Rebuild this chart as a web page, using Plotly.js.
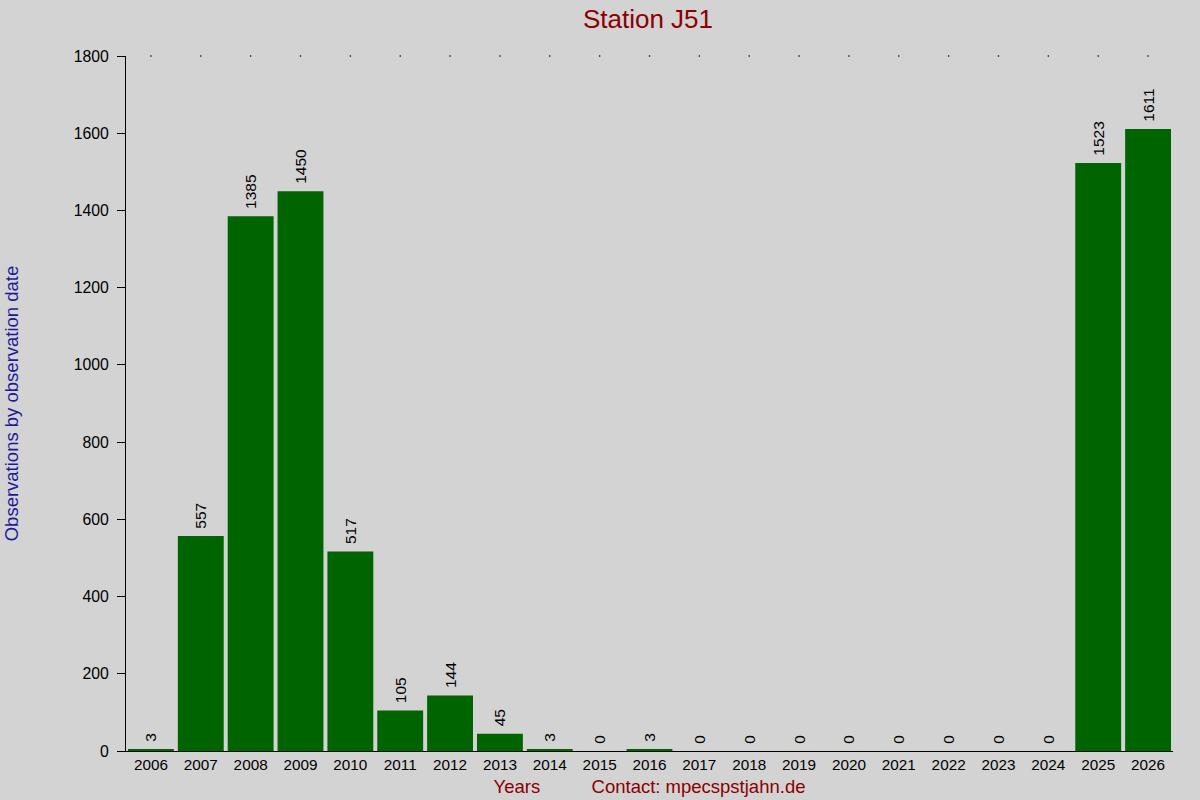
<!DOCTYPE html>
<html>
<head>
<meta charset="utf-8">
<script src="https://cdn.plot.ly/plotly-3.0.1.min.js"></script>
<style>
  body { margin: 0; background: #d3d3d3; }
  #chart { width: 1200px; height: 800px; }
</style>
</head>
<body>
<div id="chart"></div>
<script>
// yearly observation counts for J51
let years = ['2006', '2007', '2008', '2009', '2010', '2011', '2012', '2013', '2014', '2015', '2016',
             '2017', '2018', '2019', '2020', '2021', '2022', '2023', '2024', '2025', '2026'];
let counts = [3, 557, 1385, 1450, 517, 105, 144, 45, 3, 0, 3, 0, 0, 0, 0, 0, 0, 0, 0, 1523, 1611];
let yTicks = [0, 200, 400, 600, 800, 1000, 1200, 1400, 1600, 1800];
let yMax = 1800;

let bars = {
    type: 'bar',
    x: years,
    y: counts,
    width: 0.92,
    marker: { color: '#006400' },
    // leading no-break space keeps the rotated label off the bar top
    text: counts.map(v => '\u00a0' + v),
    textposition: 'outside',
    textangle: -90,
    constraintext: 'none',
    cliponaxis: false,
    textfont: { family: 'Liberation Sans, Arial', size: 15.5, color: '#000' },
    hoverinfo: 'x+y'
};

// little dots along the top edge
let dots = {
    type: 'scatter',
    mode: 'markers',
    x: years,
    y: years.map(() => yMax),
    marker: { color: '#000', size: 1.6 },
    cliponaxis: false,
    hoverinfo: 'skip'
};

let layout = {
    width: 1200,
    height: 800,
    paper_bgcolor: '#d3d3d3',
    plot_bgcolor: '#d3d3d3',
    showlegend: false,
    margin: { l: 126, r: 27, t: 56, b: 49 },
    font: { family: 'Liberation Sans, Arial', size: 15, color: '#000' },
    title: {
        text: 'Station J51',
        font: { size: 26, color: '#8b0000' },
        x: 0.54, xanchor: 'center', y: 0.977, yanchor: 'middle'
    },
    xaxis: {
        type: 'category',
        range: [-0.5, 20.5],
        showline: true,
        linecolor: '#000',
        linewidth: 1,
        ticks: '',
        showgrid: false,
        zeroline: false,
        tickfont: { size: 15.3 },
        title: {
            text: 'Years          Contact: mpecspstjahn.de',
            font: { size: 18.5, color: '#8b0000' },
            standoff: 7
        }
    },
    yaxis: {
        range: [0, yMax],
        tickvals: yTicks,
        showline: true,
        linecolor: '#000',
        linewidth: 1,
        ticks: 'outside',
        ticklen: 8,
        tickcolor: '#000',
        ticklabelstandoff: 5,
        showgrid: false,
        zeroline: false,
        tickfont: { size: 15.8 },
        title: {
            text: 'Observations by observation date',
            font: { size: 18.5, color: '#1a1a99' },
            standoff: 50
        }
    }
};

Plotly.newPlot('chart', [bars, dots], layout, { displayModeBar: false });
</script>
</body>
</html>
